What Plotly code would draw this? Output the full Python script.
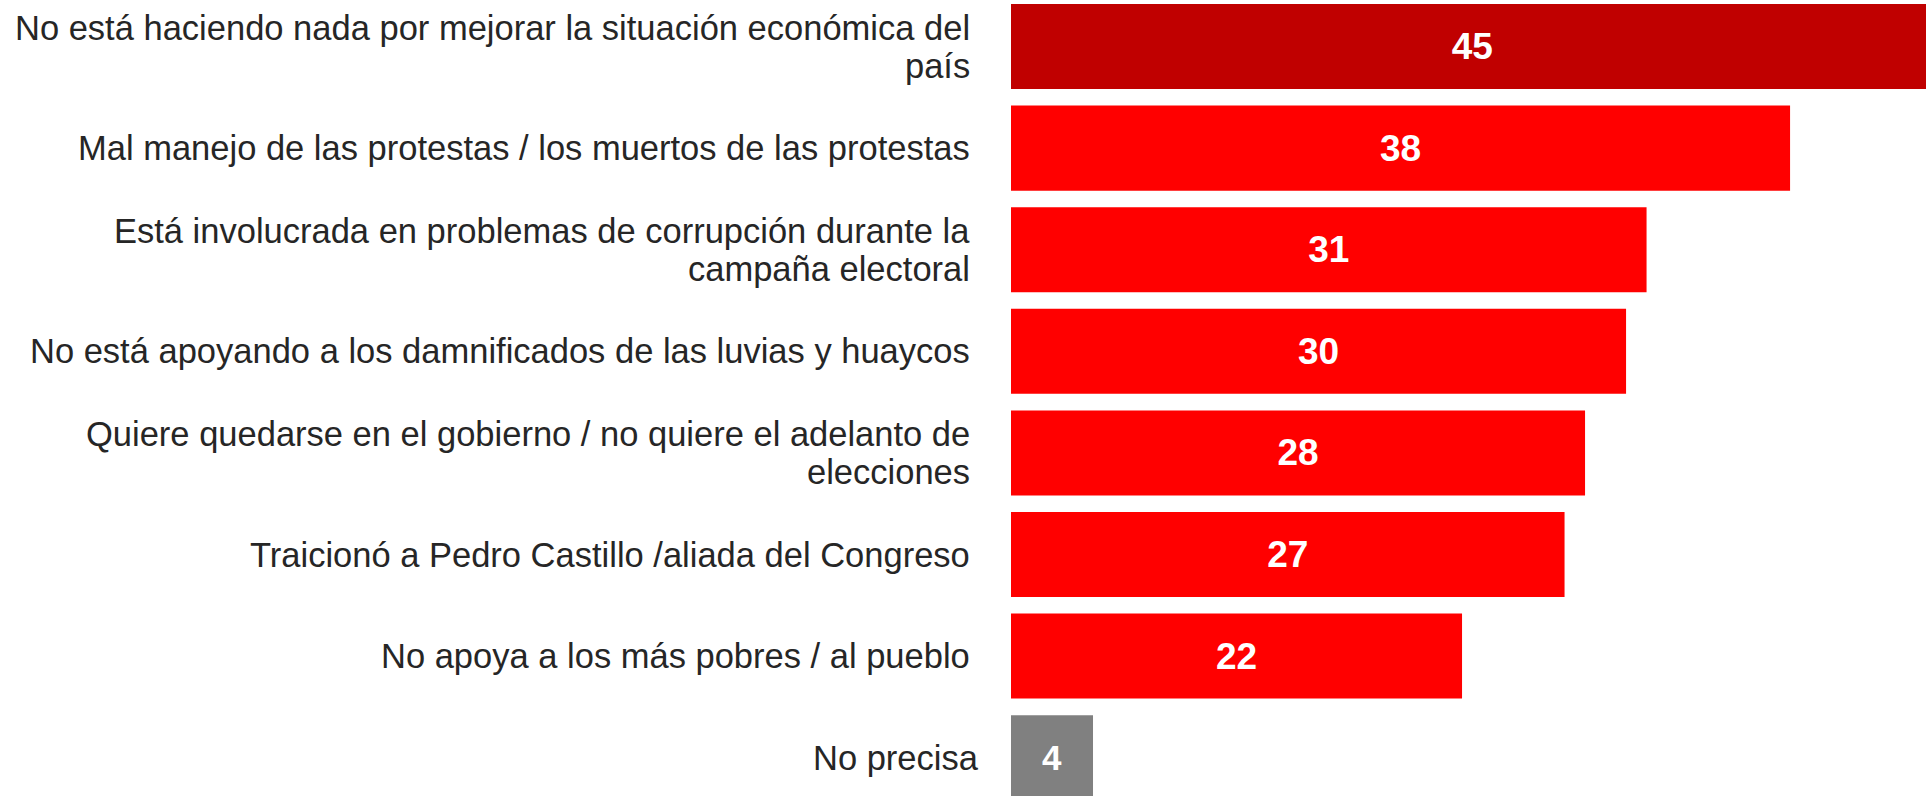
import plotly.graph_objects as go

categories = [
    "No está haciendo nada por mejorar la situación económica del<br>país",
    "Mal manejo de las protestas / los muertos de las protestas",
    "Está involucrada en problemas de corrupción durante la<br>campaña electoral",
    "No está apoyando a los damnificados de las luvias y huaycos",
    "Quiere quedarse en el gobierno / no quiere el adelanto de<br>elecciones",
    "Traicionó a Pedro Castillo /aliada del Congreso",
    "No apoya a los más pobres / al pueblo",
    "No precisa",
]
values = [45, 38, 31, 30, 28, 27, 22, 4]
bar_colors = ["#C00000", "#FF0000", "#FF0000", "#FF0000", "#FF0000", "#FF0000", "#FF0000", "#808080"]
value_font_sizes = [37, 37, 37, 37, 37, 37, 37, 35]
label_xshift = [-39, -39, -39, -39, -39, -39, -39, -30]

FONT = "Liberation Sans, Arial, sans-serif"
LABEL_SIZE = 34.5
LINE_GAP = 38

ypos = list(range(len(categories)))

fig = go.Figure(
    go.Bar(
        x=values,
        y=ypos,
        orientation="h",
        marker=dict(color=bar_colors, line=dict(width=0)),
        width=0.837,
        text=[f"<b>{v}</b>" for v in values],
        textposition="inside",
        insidetextanchor="middle",
        constraintext="none",
        textfont=dict(family=FONT, color="white", size=value_font_sizes),
        hoverinfo="skip",
    )
)

annotations = []
for i, lab in enumerate(categories):
    lines = lab.split("<br>")
    n = len(lines)
    for k, ln in enumerate(lines):
        off = (k - (n - 1) / 2) * LINE_GAP
        annotations.append(
            dict(
                x=0,
                y=i,
                xref="x",
                yref="y",
                text=ln,
                showarrow=False,
                xanchor="right",
                yanchor="middle",
                align="right",
                xshift=label_xshift[i],
                yshift=-off,
                font=dict(family=FONT, size=LABEL_SIZE, color="#262626"),
            )
        )

fig.update_layout(
    width=1926,
    height=796,
    margin=dict(l=1011, r=0, t=0, b=0),
    paper_bgcolor="white",
    plot_bgcolor="white",
    showlegend=False,
    bargap=0.16,
    annotations=annotations,
    xaxis=dict(range=[0, 44.63], visible=False, fixedrange=True),
    yaxis=dict(range=[7.377, -0.458], visible=False, fixedrange=True),
)

fig.write_html(
    "out.html",
    config={"displayModeBar": False},
    post_script="document.body.style.margin='0';document.body.style.overflow='hidden';",
)
